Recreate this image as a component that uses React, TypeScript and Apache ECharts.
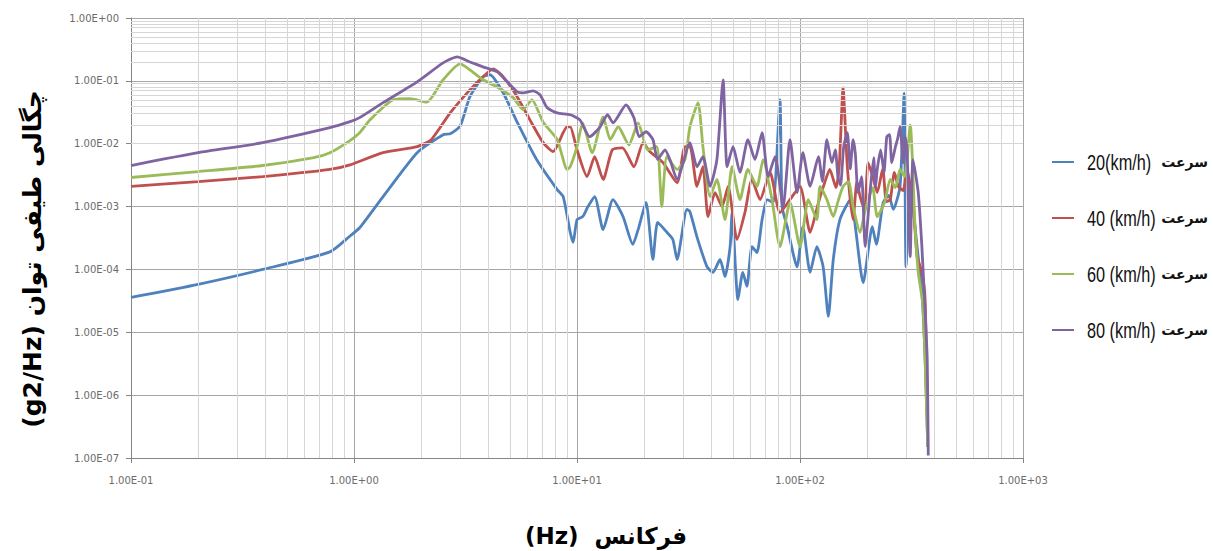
import React, { useEffect, useRef } from "react";
import * as echarts from "echarts";

// ---- data: [frequency (Hz), PSD (g2/Hz)] ----
const seriesNames = ["20(km/h)", "40 (km/h)", "60 (km/h)", "80 (km/h)"];
const speedWord = "سرعت";
const xTitle = "(Hz)  فرکانس";
const yTitle = "(g2/Hz) چگالی طیفی توان";

const speed20: [number, number][] = [
  [0.1, 3.6e-5], [0.2, 5.8e-5], [0.39, 1.0e-4], [0.78, 1.9e-4], [0.96, 3.4e-4],
  [1.06, 4.6e-4], [1.35, 1.44e-3], [1.92, 7.2e-3], [2.51, 1.39e-2], [2.7, 1.44e-2],
  [2.99, 1.9e-2], [3.31, 5.6e-2], [3.79, 0.116], [4.07, 0.125], [4.67, 0.064],
  [5.39, 0.022], [6.59, 5.6e-3], [8.15, 1.86e-3], [8.67, 1.44e-3], [9.32, 3.9e-4],
  [9.61, 2.7e-4], [10.0, 6.2e-4], [10.6, 6.9e-4], [11.2, 1.0e-3], [12.0, 1.44e-3],
  [13.1, 4.3e-4], [14.5, 1.29e-3], [16.1, 6.9e-4], [17.8, 2.5e-4], [18.8, 4.3e-4],
  [20.4, 1.16e-3], [21.9, 1.44e-4], [23.0, 5.6e-4], [25.3, 3.9e-4], [26.9, 3.0e-4],
  [28.1, 1.44e-4], [31.1, 9.0e-4], [32.1, 8.3e-4], [34.5, 3.3e-4], [38.3, 1.1e-4],
  [40.7, 9.0e-5], [43.8, 1.44e-4], [46.1, 7.7e-5], [48.6, 2.3e-4], [49.6, 8.0e-4],
  [52.7, 3.3e-5], [55.4, 9.0e-5], [57.8, 5.4e-5], [60.9, 2.3e-4], [64.1, 1.86e-4],
  [67.6, 6.2e-4], [71.2, 1.29e-3], [75.7, 1.16e-3], [81.3, 0.05], [83.1, 1.0e-3],
  [87.6, 4.8e-4], [97.0, 1.1e-4], [103, 4.8e-4], [111, 9.0e-5], [119, 2.3e-4],
  [127, 1.1e-4], [134, 1.8e-5], [141, 1.44e-4], [151, 6.2e-4], [168, 1.29e-3],
  [192, 6.2e-5], [211, 4.8e-4], [220, 2.5e-4], [236, 1.16e-3], [250, 1.5e-3],
  [262, 9.0e-4], [281, 2.1e-3], [293, 0.064], [299, 1.1e-4], [312, 2.1e-3],
  [335, 2.3e-4], [352, 4.3e-5], [364, 3.7e-6], [374, 1.5e-7],
];

const speed40: [number, number][] = [
  [0.1, 2.1e-3], [0.2, 2.5e-3], [0.39, 3.0e-3], [0.78, 3.9e-3], [0.96, 4.6e-3],
  [1.35, 7.2e-3], [1.92, 9.0e-3], [2.22, 1.16e-2], [2.7, 0.031], [3.31, 0.072],
  [3.79, 0.116], [4.21, 0.155], [4.67, 0.116], [5.39, 0.056], [6.15, 0.024],
  [7.05, 0.0104], [7.82, 7.5e-3], [9.03, 0.0186], [9.32, 0.0186], [10.0, 8.0e-3],
  [11.1, 3.0e-3], [12.0, 6.2e-3], [13.1, 2.7e-3], [14.4, 8.0e-3], [16.0, 8.6e-3],
  [18.0, 4.3e-3], [19.8, 0.0104], [21.2, 7.5e-3], [24.3, 5.0e-3], [28.1, 2.4e-3],
  [30.5, 9.0e-3], [32.1, 9.0e-3], [34.5, 2.1e-3], [36.7, 4.3e-3], [38.7, 6.9e-4],
  [41.6, 1.67e-3], [44.7, 1.0e-3], [47.6, 2.1e-3], [52.2, 3.0e-4], [56.6, 8.0e-4],
  [60.9, 2.7e-3], [66.2, 1.29e-3], [73.4, 3.5e-3], [81.3, 8.0e-4], [90.2, 1.29e-3],
  [100, 2.1e-3], [111, 3.9e-4], [121, 1.16e-3], [128, 2.2e-3], [136, 3.9e-3],
  [145, 2.0e-3], [150, 4.5e-3], [156, 0.077], [163, 4.3e-3], [173, 6.2e-4],
  [180, 2.5e-3], [186, 1.44e-3], [195, 9.0e-4], [202, 5.0e-3], [212, 3.0e-3],
  [222, 1.67e-3], [235, 4.0e-3], [244, 1.2e-3], [254, 1.29e-3], [265, 3.5e-3],
  [276, 2.1e-3], [290, 1.8e-3], [302, 3.9e-3], [310, 2.5e-3], [321, 1.29e-3],
  [335, 1.6e-4], [352, 9.0e-5], [364, 3.3e-5], [374, 2.0e-7],
];

const speed60: [number, number][] = [
  [0.1, 2.9e-3], [0.2, 3.6e-3], [0.39, 4.5e-3], [0.66, 6.0e-3], [0.78, 7.2e-3],
  [0.93, 0.0104], [1.06, 0.015], [1.18, 0.024], [1.5, 0.05], [1.78, 0.052],
  [2.12, 0.046], [2.51, 0.104], [2.99, 0.186], [3.31, 0.15], [3.79, 0.104],
  [4.39, 0.08], [5.17, 0.054], [5.73, 0.035], [6.28, 0.05], [7.05, 0.022],
  [8.15, 0.0116], [9.03, 3.9e-3], [9.32, 4.3e-3], [10.0, 9.0e-3], [10.6, 0.0215],
  [11.7, 7.2e-3], [13.1, 0.0268], [14.1, 0.0116], [15.3, 0.0186], [17.1, 9.6e-3],
  [18.8, 0.0215], [20.8, 8.0e-3], [22.8, 9.0e-3], [24.0, 1.0e-3], [25.3, 6.2e-3],
  [28.1, 3.9e-3], [30.5, 5.6e-3], [32.1, 0.0186], [34.9, 0.045], [36.7, 9.0e-3],
  [39.5, 1.44e-3], [42.4, 2.7e-3], [46.1, 6.2e-4], [49.6, 4.3e-3], [53.8, 1.29e-3],
  [58.4, 3.9e-3], [64.1, 2.1e-3], [68.3, 5.6e-3], [74.9, 1.29e-3], [81.3, 2.3e-4],
  [90.2, 1.16e-3], [100, 2.3e-4], [109, 1.29e-3], [119, 6.2e-4], [123, 2.1e-3],
  [132, 1.29e-3], [141, 6.9e-4], [148, 1.2e-3], [156, 2.1e-3], [165, 2.5e-3],
  [173, 1.0e-3], [186, 3.9e-4], [195, 8.0e-4], [202, 1.29e-3], [212, 2.0e-3],
  [222, 6.9e-4], [240, 1.2e-3], [254, 2.7e-3], [268, 2.0e-3], [281, 3.9e-3],
  [295, 3.0e-3], [312, 0.02], [328, 4.8e-4], [339, 9.0e-5], [356, 2.6e-5],
  [374, 1.5e-7],
];

const speed80: [number, number][] = [
  [0.1, 4.5e-3], [0.2, 7.2e-3], [0.39, 0.0104], [0.78, 0.018], [0.96, 0.0224],
  [1.06, 0.026], [1.35, 0.045], [1.92, 0.0964], [2.51, 0.193], [2.9, 0.24],
  [3.31, 0.2], [3.79, 0.167], [4.39, 0.139], [4.87, 0.0964], [5.39, 0.067],
  [5.73, 0.0645], [6.35, 0.0694], [6.83, 0.06], [7.35, 0.0373], [8.15, 0.031],
  [9.32, 0.0289], [10.3, 0.024], [11.4, 0.0129], [12.7, 0.0186], [13.7, 0.0289],
  [14.5, 0.0215], [16.6, 0.0416], [18.0, 0.0259], [19.0, 0.0129], [20.4, 0.0155],
  [21.9, 0.0116], [23.0, 5.6e-3], [24.8, 8.0e-3], [26.1, 5.6e-3], [28.1, 2.7e-3],
  [32.1, 0.0104], [34.5, 4.3e-3], [36.7, 6.2e-3], [39.5, 2.1e-3], [42.4, 5.6e-3],
  [45.2, 0.104], [47.1, 4.3e-3], [50.1, 9.0e-3], [53.8, 3.5e-3], [58.4, 0.0116],
  [62.8, 5.6e-3], [67.6, 0.015], [71.9, 3.0e-3], [77.3, 6.2e-3], [84.0, 1.0e-3],
  [90.2, 0.0116], [97.0, 1.67e-3], [103, 7.2e-3], [111, 2.1e-3], [121, 6.2e-3],
  [126, 2.5e-3], [132, 0.0116], [139, 5.0e-3], [144, 8.0e-3], [148, 3.0e-3],
  [152, 2.2e-3], [157, 9.0e-3], [163, 0.015], [168, 4.0e-3], [173, 0.0116],
  [177, 7.0e-3], [182, 1.67e-3], [189, 3.0e-3], [196, 2.3e-4], [206, 1.67e-3],
  [214, 6.0e-3], [218, 2.0e-3], [222, 3.9e-3], [230, 8.0e-3], [238, 3.5e-3],
  [245, 0.0129], [252, 0.014], [258, 5.0e-3], [268, 9.0e-3], [274, 0.012],
  [281, 0.0186], [290, 5.0e-3], [296, 0.013], [302, 8.0e-3], [312, 1.6e-4],
  [321, 5.6e-3], [339, 1.67e-3], [352, 2.3e-4], [364, 2.1e-5], [372, 3.7e-6],
  [376, 1.1e-7],
];

const seriesData = [speed20, speed40, speed60, speed80];
const colors = ["#4F81BD", "#C0504D", "#9BBB59", "#8064A2"];

// minor grid positions (2..9 x 10^k)
const xMinor: number[] = [];
for (let k = -1; k <= 2; k++) for (let m = 2; m <= 9; m++) xMinor.push(m * Math.pow(10, k));
const yMinor: number[] = [];
for (let k = -7; k <= -1; k++) for (let m = 2; m <= 9; m++) yMinor.push(m * Math.pow(10, k));

const sci = (v: number) => {
  const e = Math.round(Math.log10(v));
  const s = e < 0 ? "-" : "+";
  return `1.00E${s}${String(Math.abs(e)).padStart(2, "0")}`;
};

export default function App() {
  const ref = useRef<HTMLDivElement>(null);
  useEffect(() => {
    if (!ref.current) return;
    const chart = echarts.init(ref.current, undefined, { renderer: "svg" });
    const axisCommon = {
      axisLine: { show: true, lineStyle: { color: "#868686", width: 1 } },
      axisTick: { show: true, length: 5, lineStyle: { color: "#868686" } },
      splitLine: { show: true, lineStyle: { color: "#a6a6a6", width: 1 } },
      axisLabel: {
        color: "#6b6b6b",
        fontFamily: "'DejaVu Sans', sans-serif",
        fontSize: 10,
        formatter: sci,
      },
    };
    const legendY = [162, 218, 274, 330];
    const legendGraphics: any[] = [];
    seriesNames.forEach((name, i) => {
      const yc = legendY[i];
      legendGraphics.push(
        {
          type: "line",
          shape: { x1: 1052, y1: yc, x2: 1074, y2: yc },
          style: { stroke: colors[i], lineWidth: 2 },
        },
        {
          type: "text",
          x: 1087,
          y: yc,
          scaleX: 0.74,
          style: {
            text: name,
            font: "22px 'Liberation Sans', sans-serif",
            verticalAlign: "middle",
            align: "left",
            fill: "#111",
          },
        },
        {
          type: "text",
          x: 1208,
          y: yc,
          style: {
            text: speedWord,
            font: "bold 14px 'DejaVu Sans', sans-serif",
            verticalAlign: "middle",
            align: "right",
            fill: "#111",
          },
        }
      );
    });
    chart.setOption({
      animation: false,
      backgroundColor: "#ffffff",
      grid: { left: 131, right: 190, top: 18, bottom: 93, containLabel: false },
      xAxis: {
        type: "log",
        logBase: 10,
        min: 0.1,
        max: 1000,
        ...axisCommon,
        axisLabel: { ...axisCommon.axisLabel, margin: 17 },
      },
      yAxis: {
        type: "log",
        logBase: 10,
        min: 1e-7,
        max: 1,
        ...axisCommon,
        axisLabel: { ...axisCommon.axisLabel, margin: 12 },
      },
      graphic: [
        {
          type: "text",
          x: 32,
          y: 259,
          rotation: Math.PI / 2,
          style: {
            text: yTitle,
            align: "center",
            verticalAlign: "middle",
            font: "bold 25px 'DejaVu Sans', sans-serif",
            fill: "#000",
          },
        },
        {
          type: "text",
          x: 606,
          y: 536,
          style: {
            text: xTitle,
            align: "center",
            verticalAlign: "middle",
            font: "bold 23px 'DejaVu Sans', sans-serif",
            fill: "#000",
          },
        },
        ...legendGraphics,
      ],
      series: [
        {
          type: "line",
          name: "gridHelper",
          data: [[1, 1e-3]],
          showSymbol: false,
          symbol: "none",
          lineStyle: { opacity: 0 },
          silent: true,
          z: 1,
          markLine: {
            silent: true,
            symbol: ["none", "none"],
            label: { show: false },
            emphasis: { disabled: true },
            lineStyle: { color: "#d6d6d6", width: 1, type: "solid" },
            data: [
              ...xMinor.map((v) => ({ xAxis: v })),
              ...yMinor.map((v) => ({ yAxis: v })),
            ],
          },
        },
        ...seriesData.map((d, i) => ({
          type: "line",
          name: seriesNames[i],
          data: d,
          showSymbol: false,
          symbol: "none",
          smooth: 0.2,
          z: 2 + i,
          color: colors[i],
          lineStyle: { width: 2.8, color: colors[i] },
          emphasis: { disabled: true },
        })),
      ],
    });
    return () => chart.dispose();
  }, []);
  return (
    <div
      ref={ref}
      style={{ position: "fixed", left: 0, top: 0, width: 1213, height: 551, background: "#fff" }}
    />
  );
}
